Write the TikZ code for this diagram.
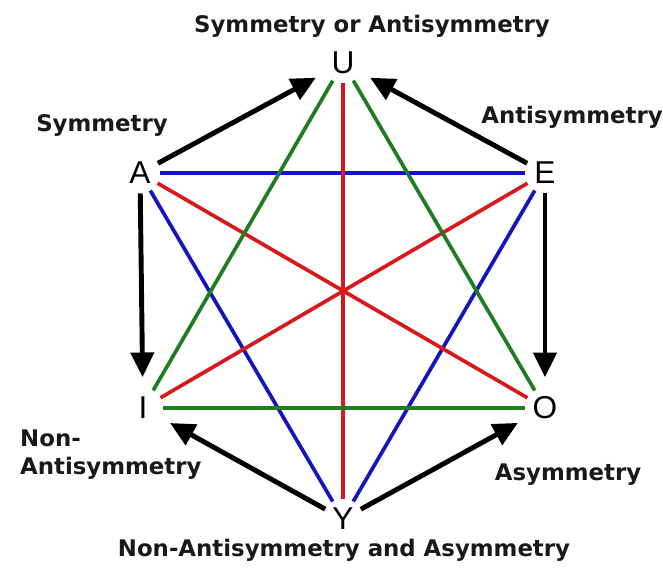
\documentclass[tikz,border=0pt]{standalone}
\usepackage{fontspec}
\setsansfont{Liberation Sans}
\newfontfamily\labelfont{DejaVu Sans Bold}
\usetikzlibrary{arrows.meta}
\definecolor{lineblue}{RGB}{20,20,190}
\definecolor{linered}{RGB}{215,25,30}
\definecolor{linegreen}{RGB}{30,125,30}

\tikzset{
  vertex/.style={circle, inner sep=0pt, minimum size=0.8cm, font=\sffamily\fontsize{18}{18}\selectfont},
  caption/.style={font=\labelfont\fontsize{13}{16}\selectfont, text=black!90},
  bond/.style={line width=2.1pt},
  implies/.style={line width=2.8pt, -{Triangle[length=14pt,width=13pt]}, shorten >=6pt}
}

\begin{document}
\begin{tikzpicture}[x=0.02cm, y=-0.02cm]
    \useasboundingbox (0,0) rectangle (663,575);
    % The six vertices of the hexagon
    \node[vertex] (U) at (343,63) {U};
    \node[vertex] (A) at (140,173) {A};
    \node[vertex] (E) at (545,173) {E};
    \node[vertex] (I) at (143,408) {I};
    \node[vertex] (O) at (545,408) {O};
    \node[vertex] (Y) at (343,519) {Y};
    % Labels round the hexagon
    \node[caption] (capU) at (372,26) {Symmetry or Antisymmetry};
    \node[caption] (capA) at (102,125) {Symmetry};
    \node[caption] (capE) at (572,117) {Antisymmetry};
    \node[caption, align=left, anchor=west] (capI) at (14,455) {Non-\\Antisymmetry};
    \node[caption] (capO) at (568,475) {Asymmetry};
    \node[caption] (capY) at (344,550) {Non-Antisymmetry and Asymmetry};
    % Blue lines
    \draw[bond, lineblue] (A) -- (E);
    \draw[bond, lineblue] (A) -- (Y);
    \draw[bond, lineblue] (E) -- (Y);
    % Red lines
    \draw[bond, linered] (U) -- (Y);
    \draw[bond, linered] (A) -- (O);
    \draw[bond, linered] (E) -- (I);
    % Green lines
    \draw[bond, linegreen] (U) -- (I);
    \draw[bond, linegreen] (U) -- (O);
    \draw[bond, linegreen] (I) -- (O);
    % Implication arrows
    \draw[implies] (A) -- (U);
    \draw[implies] (E) -- (U);
    \draw[implies] (A) -- (I);
    \draw[implies] (E) -- (O);
    \draw[implies] (Y) -- (I);
    \draw[implies] (Y) -- (O);
\end{tikzpicture}
\end{document}
